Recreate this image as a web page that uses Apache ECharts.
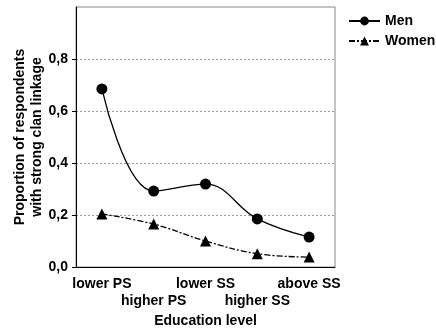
<!DOCTYPE html>
<html>
<head>
<meta charset="utf-8">
<script src="https://cdn.jsdelivr.net/npm/echarts@6/dist/echarts.min.js"></script>
<style>
  html, body { margin: 0; padding: 0; background: #fff; }
  #chart { width: 436px; height: 329px; }
</style>
</head>
<body>
<div id="chart"></div>
<script>
// education levels along the x axis
var levels = ['lower PS', 'higher PS', 'lower SS', 'higher SS', 'above SS'];
// proportion with strong clan linkage
var menValues = [0.685, 0.292, 0.319, 0.185, 0.115];
var womenValues = [0.204, 0.165, 0.100, 0.051, 0.038];
var yTicks = [0, 0.2, 0.4, 0.6, 0.8];

var font = 'Liberation Sans, Arial, sans-serif';

var chart = echarts.init(document.getElementById('chart'));
chart.setOption({
    animation: false,
    grid: {
        left: 76, right: 101, top: 7, bottom: 62,
        outerBoundsMode: 'none',
        show: true, borderColor: '#888', borderWidth: 1
    },
    legend: {
        orient: 'vertical',
        left: 348, top: 14, padding: 0,
        itemWidth: 31, itemHeight: 11, itemGap: 6,
        textStyle: { fontFamily: font, fontWeight: 'bold', fontSize: 14, color: '#000' },
        data: ['Men', 'Women']
    },
    xAxis: {
        type: 'category',
        data: levels,
        name: 'Education level',
        nameLocation: 'middle',
        nameGap: 47,
        nameMoveOverlap: false,
        nameTextStyle: { fontFamily: font, fontWeight: 'bold', fontSize: 14, color: '#000' },
        axisLine: { lineStyle: { color: '#000', width: 1 } },
        axisTick: { alignWithLabel: true, length: 5, lineStyle: { color: '#000' } },
        axisLabel: {
            interval: 0, margin: 9, lineHeight: 17,
            fontFamily: font, fontWeight: 'bold', fontSize: 14, color: '#000',
            formatter: function (v, i) { return i % 2 ? '\n' + v : v; }
        },
        splitLine: { show: false }
    },
    yAxis: {
        type: 'value',
        min: 0, max: 1, interval: 0.2,
        name: 'Proportion of respondents\nwith strong clan linkage',
        nameLocation: 'middle',
        nameGap: 30,
        nameMoveOverlap: false,
        nameTextStyle: { fontFamily: font, fontWeight: 'bold', fontSize: 14, color: '#000', lineHeight: 17 },
        axisLine: { show: true, lineStyle: { color: '#000', width: 1 } },
        axisTick: { show: true, length: 4, customValues: yTicks, lineStyle: { color: '#000' } },
        axisLabel: {
            margin: 8,
            customValues: yTicks,
            fontFamily: font, fontWeight: 'bold', fontSize: 14, color: '#000',
            formatter: function (v) { return v.toFixed(1).replace('.', ','); }
        },
        splitLine: { show: true, lineStyle: { color: '#999', type: [2, 2], width: 1 } }
    },
    series: [
        {
            name: 'Men',
            type: 'line',
            data: menValues,
            smooth: 0.4,
            symbol: 'circle',
            symbolSize: 11,
            itemStyle: { color: '#000' },
            lineStyle: { color: '#000', width: 1.3 }
        },
        {
            name: 'Women',
            type: 'line',
            data: womenValues,
            smooth: 0.4,
            symbol: 'triangle',
            symbolSize: 11,
            itemStyle: { color: '#000' },
            lineStyle: { color: '#000', width: 1.3, type: [6, 2, 2, 2] }
        }
    ]
});
</script>
</body>
</html>
